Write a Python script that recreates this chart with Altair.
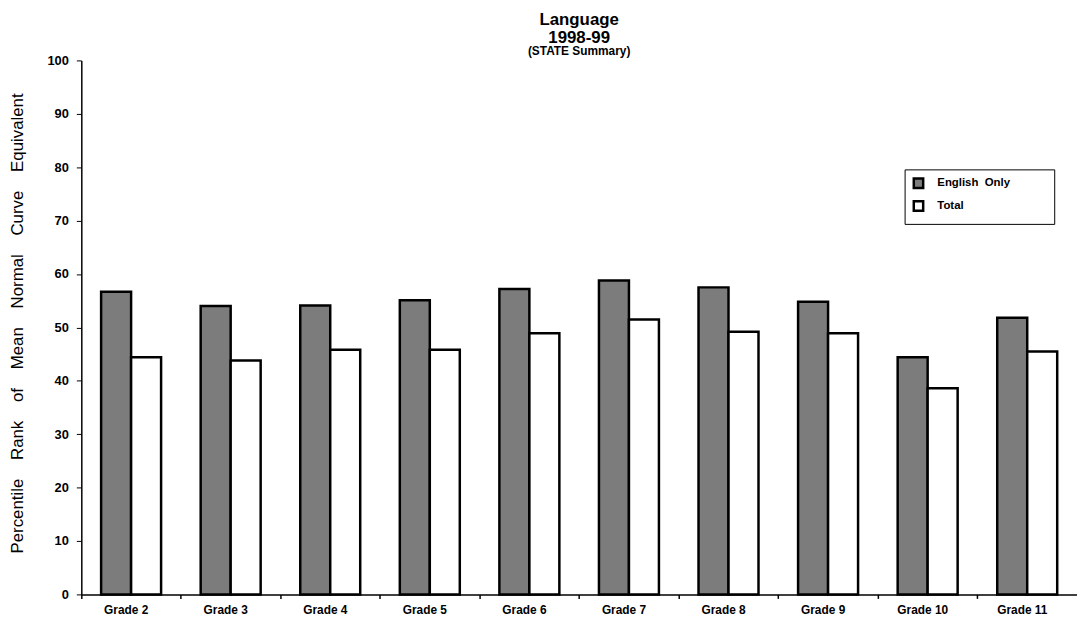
import altair as alt
import pandas as pd

grades = ["Grade 2", "Grade 3", "Grade 4", "Grade 5", "Grade 6",
          "Grade 7", "Grade 8", "Grade 9", "Grade 10", "Grade 11"]
english_only = [56.7, 54.0, 54.1, 55.1, 57.2, 58.8, 57.5, 54.8, 44.4, 51.8]
total = [44.4, 43.8, 45.8, 45.8, 48.9, 51.5, 49.2, 48.9, 38.6, 45.5]
series = ["English Only", "Total"]

rows = []
for g, e, t in zip(grades, english_only, total):
    rows.append({"grade": g, "series": series[0], "value": e})
    rows.append({"grade": g, "series": series[1], "value": t})
df = pd.DataFrame(rows)

NB = "\u00a0"
ytitle = (NB * 4).join("Percentile Rank of Mean Normal Curve Equivalent".split(" "))

W = 1005
H = 539
chart = alt.Chart(df).mark_bar(stroke="black", strokeWidth=2.5).encode(
    x=alt.X("grade:N", sort=grades,
            scale=alt.Scale(paddingInner=0, paddingOuter=0),
            axis=alt.Axis(title=None, labelAngle=0, labelFont="Liberation Sans",
                          labelFontSize=12, labelFontWeight="bold", labelColor="black",
                          labelPadding=6, bandPosition=0, labelOffset=-5,
                          domainColor="black", domainWidth=1.5, tickColor="black",
                          tickSize=4, tickWidth=1.5)),
    xOffset=alt.XOffset("series:N", sort=series,
                        scale=alt.Scale(paddingInner=0, paddingOuter=0.66)),
    y=alt.Y("value:Q", scale=alt.Scale(domain=[0, 100], nice=False),
            axis=alt.Axis(values=list(range(0, 101, 10)), grid=False,
                          labelFont="Liberation Sans", labelFontSize=13, labelFontWeight="bold",
                          labelColor="black", domainColor="black", domainWidth=1.5,
                          tickColor="black", tickSize=5, labelPadding=8,
                          title=ytitle, titleFont="Liberation Sans", titleFontSize=17,
                          titleFontWeight="normal", titleColor="black", titleAngle=-90,
                          titleX=-64, titleY=265, titleAlign="center", titleBaseline="middle")),
    color=alt.Color("series:N", sort=series,
                    scale=alt.Scale(domain=series, range=["#7c7c7c", "#ffffff"]),
                    legend=alt.Legend(title=None, orient="none", legendX=831, legendY=110,
                                      symbolType="square", symbolSize=90,
                                      symbolStrokeColor="black", symbolStrokeWidth=2.5,
                                      labelFont="Liberation Sans", labelFontSize=11.5,
                                      labelFontWeight="bold", labelColor="black",
                                      labelOffset=13,
                                      labelExpr="datum.label == 'English Only' ? 'English\u00a0\u00a0Only\u2800\u2800\u2800\u2800' : datum.label",
                                      strokeColor="black", padding=8, rowPadding=3,
                                      labelLimit=250, fillColor="white")),
).properties(
    width=W, height=H,
    autosize=alt.AutoSizeParams(type="none"),
    padding={"left": 74, "top": 50, "right": 0, "bottom": 32},
    title=alt.TitleParams(text=["Language", "1998-99"], subtitle="(STATE Summary)",
                          font="Liberation Sans", fontSize=17, fontWeight="bold",
                          subtitleFont="Liberation Sans", subtitleFontSize=12,
                          subtitleFontWeight="bold", color="black", subtitleColor="black",
                          anchor="middle", offset=-4, lineHeight=18, subtitlePadding=0),
).configure_view(stroke=None)

chart.save("out.html", embed_options={"renderer": "svg", "actions": False})
